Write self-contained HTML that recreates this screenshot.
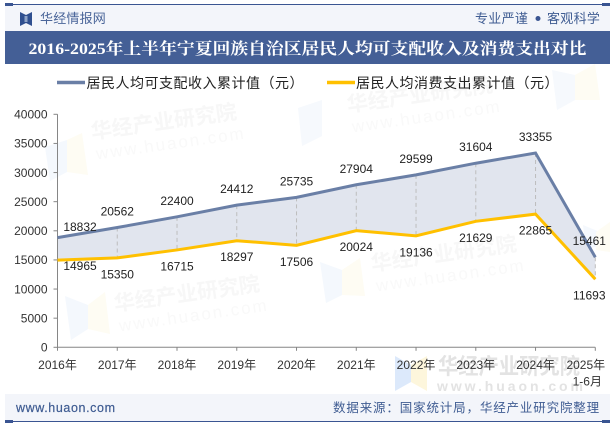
<!DOCTYPE html>
<html lang="zh">
<head>
<meta charset="utf-8">
<title>2016-2025年上半年宁夏回族自治区居民人均可支配收入及消费支出对比</title>
<style>
html,body{margin:0;padding:0;background:#fff;}
svg{display:block;}
text{font-family:"Liberation Sans","Noto Sans CJK SC",sans-serif;}
</style>
</head>
<body>
<svg id="chart" width="615" height="427" viewBox="0 0 615 427" xmlns="http://www.w3.org/2000/svg">
  <rect x="0" y="0" width="615" height="427" fill="#fff"/>
  <g id="watermarks">
    <g transform="translate(92,139) rotate(-8)">
      <text x="0" y="0" font-size="21" font-weight="bold" fill="#f7f7f7">华经产业研究院</text>
      <text x="2" y="21" font-size="17" letter-spacing="2" fill="#f9f9f9">www.huaon.com</text>
    </g>
    <polygon points="45,147 67,140 67,172 50,181" fill="#f4f8fd"/>
    <polygon points="67,140 82,133 88,175 67,172" fill="#fefcf3"/>
    <g transform="translate(115,311) rotate(-8)">
      <text x="0" y="0" font-size="21" font-weight="bold" fill="#f7f7f7">华经产业研究院</text>
      <text x="2" y="21" font-size="17" letter-spacing="2" fill="#f9f9f9">www.huaon.com</text>
    </g>
    <polygon points="65,296 88,305 88,329 71,340" fill="#f4f8fd"/>
    <polygon points="88,305 105,292 110,334 88,329" fill="#fefcf3"/>
    <g transform="translate(372,271) rotate(-8)">
      <text x="0" y="0" font-size="21" font-weight="bold" fill="#f7f7f7">华经产业研究院</text>
      <text x="2" y="21" font-size="17" letter-spacing="2" fill="#f9f9f9">www.huaon.com</text>
    </g>
    <polygon points="320,262 342,270 342,295 326,303" fill="#f4f8fd"/>
    <polygon points="342,270 360,258 365,296 342,295" fill="#fefcf3"/>
    <g transform="translate(348,112) rotate(-8)">
      <text x="0" y="0" font-size="21" font-weight="bold" fill="#f7f7f7">华经产业研究院</text>
      <text x="2" y="21" font-size="17" letter-spacing="2" fill="#f9f9f9">www.huaon.com</text>
    </g>
    <polygon points="298,108 322,100 322,136 302,146" fill="#f6f9fd"/>
    <polygon points="552,70 575,75 575,100 557,110" fill="#f6f9fd"/>
    <polygon points="575,75 595,64 600,100 575,100" fill="#fefcf3"/>
    <polygon points="583,225 600,232 600,245 586,250" fill="#f4f8fd"/>
    <polygon points="596,232 610,222 610,252 596,250" fill="#fefcf3"/>
    <polygon points="395,356 411,365 411,382 395,391" fill="#dce9fb"/>
    <polygon points="411,365 427,356 427,391 411,382" fill="#fdf6dc"/>
    <text x="438" y="374" font-size="22" font-weight="bold" fill="#e3e3e3" textLength="142" lengthAdjust="spacingAndGlyphs">华经产业研究院</text>
    <text x="437" y="391" font-size="14" font-weight="bold" fill="#e3e3e3" textLength="146">www.huaon.com</text>
  </g>

  <rect x="5" y="5" width="605" height="26" fill="#f3f5fa"/>
  <line x1="5" y1="4.5" x2="610" y2="4.5" stroke="#3a5592" stroke-width="1"/>
  <rect x="5" y="3" width="8" height="3" fill="#3a5592"/>
  <rect x="602" y="3" width="8" height="3" fill="#3a5592"/>
  <g>
    <polygon points="20,12 26,15 26,23 20,26" fill="#2f4f8f"/>
    <polygon points="26,15 32,12 32,26 26,23" fill="#2f4f8f"/>
    <polygon points="24.5,16 27.5,16 27.5,22 24.5,22" fill="#8ea3c7"/>
  </g>
  <text x="40" y="23" font-size="13" letter-spacing="0.2" fill="#4a6599">华经情报网</text>
  <text x="475" y="23" font-size="13" letter-spacing="0.3" fill="#3f5c92">专业严谨</text>
  <circle cx="538" cy="18.5" r="2.5" fill="#3a5592"/>
  <text x="547" y="23" font-size="13" letter-spacing="0.3" fill="#3f5c92">客观科学</text>

  <rect x="5" y="31" width="605" height="33" fill="#445f96"/>
  <text x="28.5" y="54" font-size="16" font-weight="bold" fill="#fff" textLength="558" lengthAdjust="spacingAndGlyphs" style="font-family:'Liberation Serif','Noto Serif CJK SC',serif">2016-2025年上半年宁夏回族自治区居民人均可支配收入及消费支出对比</text>

  <g>
    <line x1="57" y1="82.5" x2="85" y2="82.5" stroke="#6a7fa6" stroke-width="3.4"/>
    <text x="86.5" y="88" font-size="14" letter-spacing="0.5" fill="#222">居民人均可支配收入累计值（元）</text>
    <line x1="327" y1="82.5" x2="355" y2="82.5" stroke="#ffc000" stroke-width="3.4"/>
    <text x="356" y="88" font-size="14" letter-spacing="0.5" fill="#222">居民人均消费支出累计值（元）</text>
  </g>

  <g id="plot"></g>

  <rect x="5" y="394" width="605" height="27" fill="#f3f5fa"/>
  <line x1="5" y1="421.5" x2="610" y2="421.5" stroke="#3a5592" stroke-width="1"/>
  <rect x="5" y="420" width="8" height="3" fill="#3a5592"/>
  <rect x="602" y="420" width="8" height="3" fill="#3a5592"/>
  <text x="16" y="412" font-size="12.5" textLength="99" fill="#3f5c92" stroke="#3f5c92" stroke-width="0.2">www.huaon.com</text>
  <text x="333" y="412" font-size="12.5" letter-spacing="0.85" fill="#3f5c92">数据来源：国家统计局，华经产业研究院整理</text>
</svg>
<script>
var categories = ["2016年","2017年","2018年","2019年","2020年","2021年","2022年","2023年","2024年","2025年"];
var incomeValues = [18832,20562,22400,24412,25735,27904,29599,31604,33355,15461];
var consumptionValues = [14965,15350,16715,18297,17506,20024,19136,21629,22865,11693];
var yTicks = [0,5000,10000,15000,20000,25000,30000,35000,40000];

var NS = "http://www.w3.org/2000/svg";
var plot = document.getElementById("plot");
var LEFT = 57.5, RIGHT = 595.3, BOTTOM = 347.3, TOP = 114.3, YMAX = 40000;

function xScale(i){ return LEFT + (RIGHT - LEFT) * i / (categories.length - 1); }
function yScale(v){ return BOTTOM - (BOTTOM - TOP) * v / YMAX; }
function make(tag, attrs, text){
  var el = document.createElementNS(NS, tag);
  for (var k in attrs) el.setAttribute(k, attrs[k]);
  if (text !== undefined) el.textContent = text;
  plot.appendChild(el);
  return el;
}
function pointsOf(values){
  return values.map(function(v,i){ return xScale(i).toFixed(2) + "," + yScale(v).toFixed(2); });
}

var bandPts = pointsOf(incomeValues).concat(pointsOf(consumptionValues).reverse()).join(" ");
var band = make("polygon", {points: bandPts, fill: "#e1e5ee"});



categories.forEach(function(c,i){
  var drop = make("line", {x1:xScale(i), x2:xScale(i), y1:yScale(incomeValues[i]), y2:yScale(consumptionValues[i]), stroke:"#bdbdbd", "stroke-width":1, "stroke-dasharray":"4 3"});
  
  
});

var yAxis = make("line", {x1:LEFT, x2:LEFT, y1:TOP, y2:BOTTOM, stroke:"#868686", "stroke-width":1});


var xAxis = make("line", {x1:LEFT, x2:RIGHT, y1:BOTTOM, y2:BOTTOM, stroke:"#868686", "stroke-width":1});



yTicks.forEach(function(t){
  var y = yScale(t);
  var tick = make("line", {x1:LEFT-4, x2:LEFT, y1:y, y2:y, stroke:"#868686", "stroke-width":1});
  
  
  var lab = make("text", {x:47.5, y:y+4.3, "font-size":12, "text-anchor":"end", fill:"#333"}, String(t));
  
  
});

categories.forEach(function(c,i){
  var x = xScale(i);
  var tick = make("line", {x1:x, x2:x, y1:BOTTOM, y2:BOTTOM+3.5, stroke:"#868686", "stroke-width":1});
  
  
  var last = i === categories.length - 1;
  var lab = make("text", {x: last ? x-9.5 : x, y:369, "font-size":12, "text-anchor":"middle", fill:"#333"}, c);
  
  
});
var subLabel = make("text", {x:RIGHT-8, y:385.5, "font-size":12, "text-anchor":"middle", fill:"#333"}, "1-6月");



var incomeLine = make("polyline", {points: pointsOf(incomeValues).join(" "), fill:"none", stroke:"#6a7fa6", "stroke-width":3, "stroke-linejoin":"miter"});


var consumptionLine = make("polyline", {points: pointsOf(consumptionValues).join(" "), fill:"none", stroke:"#ffc000", "stroke-width":3, "stroke-linejoin":"miter"});



function labelX(i){
  if (i === 0) return xScale(i) + 22.5;
  if (i === categories.length - 1) return xScale(i) - 6;
  return xScale(i);
}
incomeValues.forEach(function(v,i){
  var off = i === 0 ? -6.5 : -12;
  var lab = make("text", {x:labelX(i), y:yScale(v)+off, "font-size":12, "text-anchor":"middle", fill:"#222"}, String(v));
  
  
});
consumptionValues.forEach(function(v,i){
  var off = i === 0 ? 10 : 20.5;
  var lab = make("text", {x:labelX(i), y:yScale(v)+off, "font-size":12, "text-anchor":"middle", fill:"#222"}, String(v));
  
  
});
</script>
</body>
</html>
